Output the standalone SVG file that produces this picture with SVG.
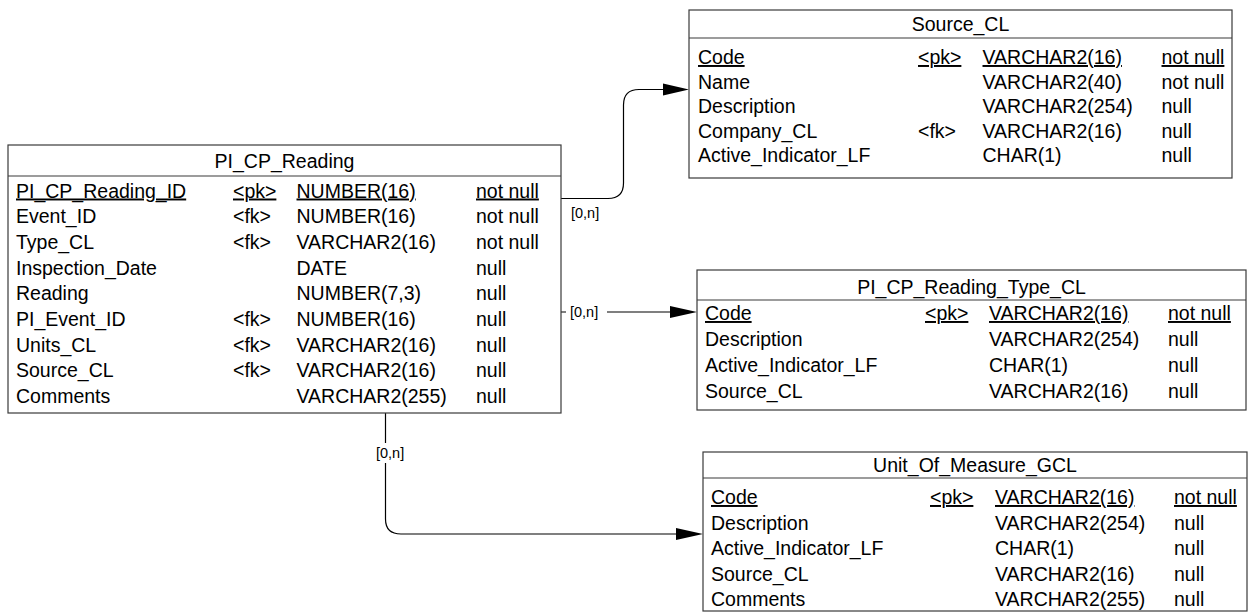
<svg xmlns="http://www.w3.org/2000/svg" width="1254" height="614" viewBox="0 0 1254 614">
<style>
.box{fill:#fff;stroke:#3a3a3a;stroke-width:1.2}
.hl{stroke:#3a3a3a;stroke-width:1.2}
.t1{font-family:"Liberation Sans",Arial,sans-serif;font-size:19.5px;fill:#000}
.u{text-decoration:underline}
.mid{text-anchor:middle}
.lbl{font-family:"Liberation Sans",Arial,sans-serif;font-size:14.5px;fill:#000}
.c{fill:none;stroke:#000;stroke-width:1.2}
.ah{fill:#000}
</style>
<g id="connectors">
<path class="c" d="M561,198.5 H608 Q623.5,198.5 623.5,183 V105 Q623.5,89.5 639,89.5 H664"/>
<polygon class="ah" points="663,83.5 689,89.5 663,95.5"/>
<text class="lbl" x="571" y="218">[0,n]</text>
<path class="c" d="M561,312 H566 M607,312 H671"/>
<polygon class="ah" points="670,306 697,312 670,318"/>
<text class="lbl" x="570" y="317">[0,n]</text>
<path class="c" d="M385.5,413 V443 M385.5,463 V519 Q385.5,534 401,534 H677"/>
<polygon class="ah" points="676,528 703,534 676,540"/>
<text class="lbl" x="376" y="458">[0,n]</text>
</g>
<g id="PI_CP_Reading">
<rect class="box" x="8" y="145" width="553" height="268"/>
<line class="hl" x1="8" y1="176" x2="561" y2="176"/>
<text class="t1 mid" x="284.5" y="167.5">PI_CP_Reading</text>
<g class="t1">
<text class="u" x="16" y="197.5">PI_CP_Reading_ID</text><text class="u" x="233" y="197.5">&lt;pk&gt;</text><text class="u" x="296.5" y="197.5">NUMBER(16)</text><text class="u" x="476" y="197.5">not null</text>
<text x="16" y="223.2">Event_ID</text><text x="233" y="223.2">&lt;fk&gt;</text><text x="296.5" y="223.2">NUMBER(16)</text><text x="476" y="223.2">not null</text>
<text x="16" y="248.9">Type_CL</text><text x="233" y="248.9">&lt;fk&gt;</text><text x="296.5" y="248.9">VARCHAR2(16)</text><text x="476" y="248.9">not null</text>
<text x="16" y="274.6">Inspection_Date</text><text x="296.5" y="274.6">DATE</text><text x="476" y="274.6">null</text>
<text x="16" y="300.3">Reading</text><text x="296.5" y="300.3">NUMBER(7,3)</text><text x="476" y="300.3">null</text>
<text x="16" y="326">PI_Event_ID</text><text x="233" y="326">&lt;fk&gt;</text><text x="296.5" y="326">NUMBER(16)</text><text x="476" y="326">null</text>
<text x="16" y="351.7">Units_CL</text><text x="233" y="351.7">&lt;fk&gt;</text><text x="296.5" y="351.7">VARCHAR2(16)</text><text x="476" y="351.7">null</text>
<text x="16" y="377.4">Source_CL</text><text x="233" y="377.4">&lt;fk&gt;</text><text x="296.5" y="377.4">VARCHAR2(16)</text><text x="476" y="377.4">null</text>
<text x="16" y="403.1">Comments</text><text x="296.5" y="403.1">VARCHAR2(255)</text><text x="476" y="403.1">null</text>
</g>
</g>
<g id="Source_CL">
<rect class="box" x="689" y="10" width="543" height="168"/>
<line class="hl" x1="689" y1="38" x2="1232" y2="38"/>
<text class="t1 mid" x="960.5" y="31">Source_CL</text>
<g class="t1">
<text class="u" x="698" y="64">Code</text><text class="u" x="918" y="64">&lt;pk&gt;</text><text class="u" x="982.5" y="64">VARCHAR2(16)</text><text class="u" x="1161.5" y="64">not null</text>
<text x="698" y="88.5">Name</text><text x="982.5" y="88.5">VARCHAR2(40)</text><text x="1161.5" y="88.5">not null</text>
<text x="698" y="113">Description</text><text x="982.5" y="113">VARCHAR2(254)</text><text x="1161.5" y="113">null</text>
<text x="698" y="137.5">Company_CL</text><text x="918" y="137.5">&lt;fk&gt;</text><text x="982.5" y="137.5">VARCHAR2(16)</text><text x="1161.5" y="137.5">null</text>
<text x="698" y="162">Active_Indicator_LF</text><text x="982.5" y="162">CHAR(1)</text><text x="1161.5" y="162">null</text>
</g>
</g>
<g id="PI_CP_Reading_Type_CL">
<rect class="box" x="697" y="270" width="549" height="140"/>
<line class="hl" x1="697" y1="300" x2="1246" y2="300"/>
<text class="t1 mid" x="971.5" y="294">PI_CP_Reading_Type_CL</text>
<g class="t1">
<text class="u" x="705" y="320">Code</text><text class="u" x="925" y="320">&lt;pk&gt;</text><text class="u" x="989" y="320">VARCHAR2(16)</text><text class="u" x="1168" y="320">not null</text>
<text x="705" y="346">Description</text><text x="989" y="346">VARCHAR2(254)</text><text x="1168" y="346">null</text>
<text x="705" y="372">Active_Indicator_LF</text><text x="989" y="372">CHAR(1)</text><text x="1168" y="372">null</text>
<text x="705" y="398">Source_CL</text><text x="989" y="398">VARCHAR2(16)</text><text x="1168" y="398">null</text>
</g>
</g>
<g id="Unit_Of_Measure_GCL">
<rect class="box" x="703" y="452" width="544" height="159"/>
<line class="hl" x1="703" y1="478" x2="1247" y2="478"/>
<text class="t1 mid" x="975" y="472">Unit_Of_Measure_GCL</text>
<g class="t1">
<text class="u" x="711" y="504">Code</text><text class="u" x="930" y="504">&lt;pk&gt;</text><text class="u" x="995" y="504">VARCHAR2(16)</text><text class="u" x="1174" y="504">not null</text>
<text x="711" y="529.5">Description</text><text x="995" y="529.5">VARCHAR2(254)</text><text x="1174" y="529.5">null</text>
<text x="711" y="555">Active_Indicator_LF</text><text x="995" y="555">CHAR(1)</text><text x="1174" y="555">null</text>
<text x="711" y="580.5">Source_CL</text><text x="995" y="580.5">VARCHAR2(16)</text><text x="1174" y="580.5">null</text>
<text x="711" y="606">Comments</text><text x="995" y="606">VARCHAR2(255)</text><text x="1174" y="606">null</text>
</g>
</g>
</svg>
